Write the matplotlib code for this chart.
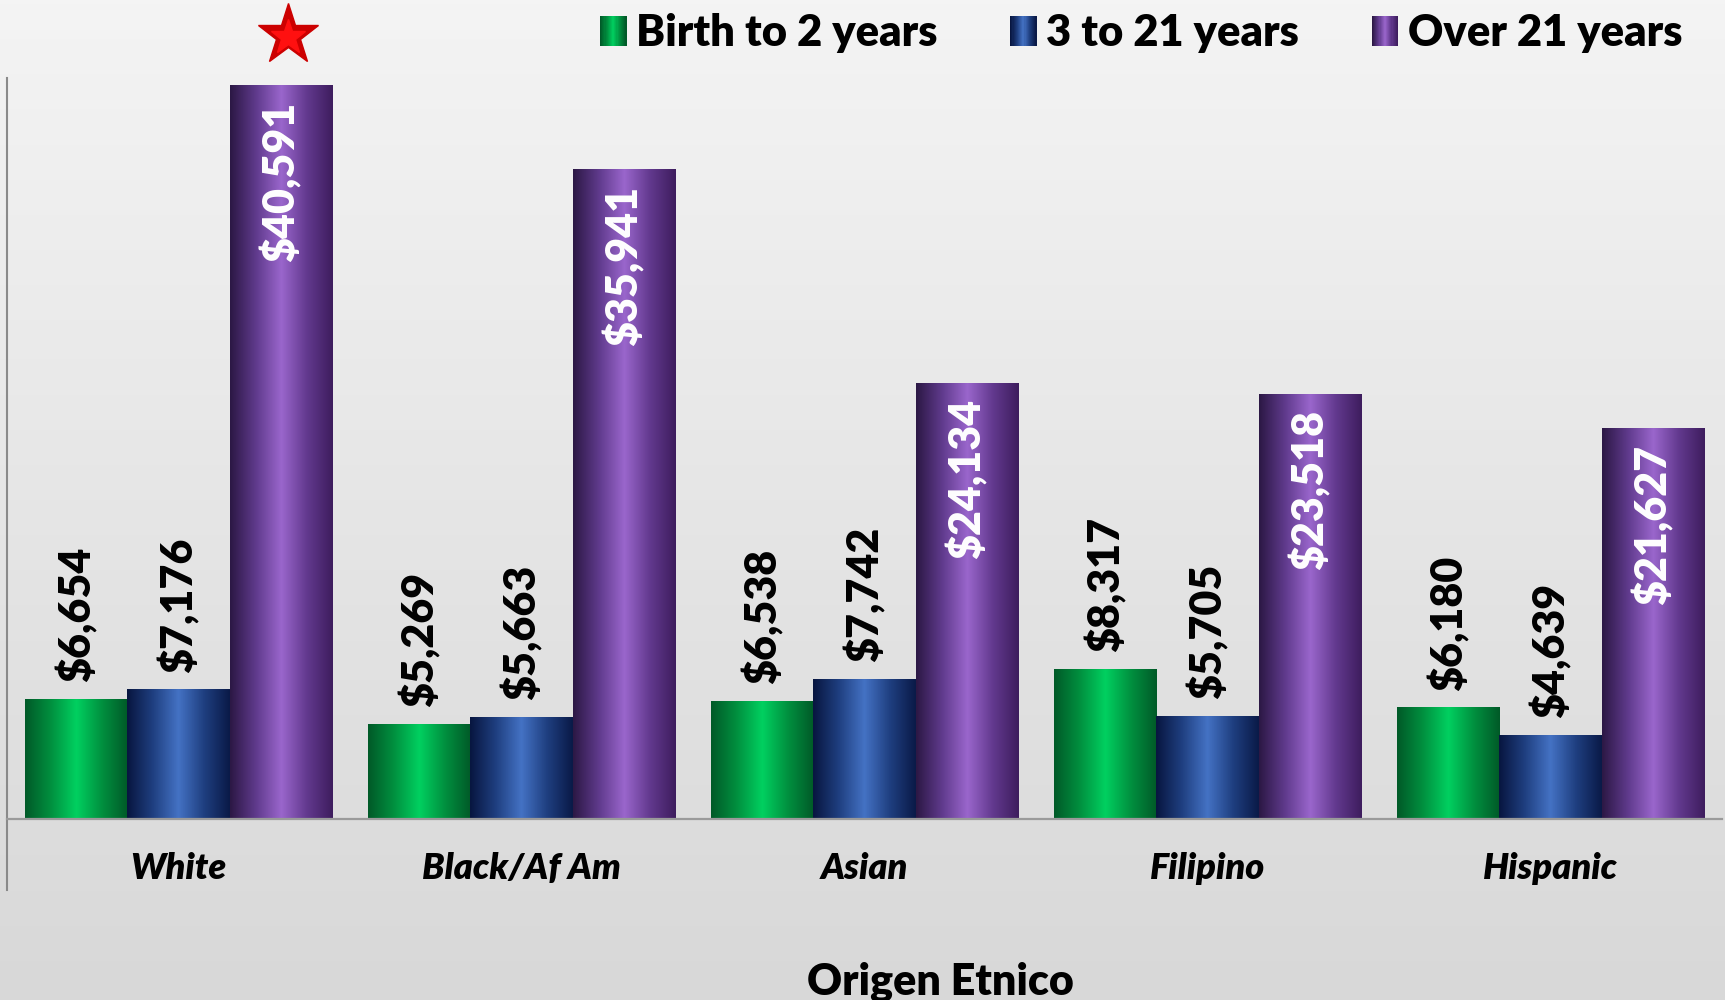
import numpy as np
import matplotlib
matplotlib.use("Agg")
import matplotlib.pyplot as plt
from matplotlib.colors import LinearSegmentedColormap
from matplotlib.patches import Patch, Rectangle
from matplotlib.legend_handler import HandlerBase

# datos
grupos = ["White", "Black/Af Am", "Asian", "Filipino", "Hispanic"]
series = ["Birth to 2 years", "3 to 21 years", "Over 21 years"]
nacimiento_2 = [6654, 5269, 6538, 8317, 6180]
de_3_a_21 = [7176, 5663, 7742, 5705, 4639]
mayor_21 = [40591, 35941, 24134, 23518, 21627]
titulo_x = "Origen Etnico"

valores = [nacimiento_2, de_3_a_21, mayor_21]

# degradados tipo cilindro
mapas = [
    LinearSegmentedColormap.from_list("verde", ["#005a28", "#00903f", "#00d060", "#00903f", "#005a28"]),
    LinearSegmentedColormap.from_list("azul", ["#081640", "#1f3f80", "#4472c4", "#1f3f80", "#0a1a48"]),
    LinearSegmentedColormap.from_list("morado", ["#2c1845", "#5f3a8c", "#9a66cc", "#62398e", "#3e1d5e"]),
]
color_etiqueta = ["black", "black", "white"]

plt.rcParams["font.family"] = ["Lato", "DejaVu Sans"]

fig = plt.figure(figsize=(17.25, 10), dpi=100)

# fondo degradado gris
fondo = fig.add_axes([0, 0, 1, 1], zorder=-10)
grad = np.linspace(244, 216, 256).reshape(-1, 1) / 255.0
fondo.imshow(np.dstack([grad, grad, grad]), aspect="auto", extent=[0, 1, 0, 1],
             origin="upper")
fondo.set_axis_off()

ax = fig.add_axes([7 / 1725, 1 - 890 / 1000, (1722 - 7) / 1725, (890 - 78) / 1000])
ax.patch.set_alpha(0)

x = np.arange(len(grupos))
ancho = 0.298
gris = "#9a9a9a"

for k, (vals, cmap) in enumerate(zip(valores, mapas)):
    pos = x + (k - 1) * ancho
    barras = ax.bar(pos, vals, width=ancho, facecolor="none", edgecolor="none",
                    label=series[k], zorder=2)
    img = np.linspace(0, 1, 200).reshape(1, -1)
    for b in barras:
        x0, y0 = b.get_x(), b.get_y()
        im = ax.imshow(img, cmap=cmap, aspect="auto", zorder=2,
                       extent=[x0, x0 + b.get_width(), y0, y0 + b.get_height()])
        im.set_clip_path(b)
    for xi, v in zip(pos, vals):
        if k == 2:
            ax.annotate(f"${v:,}", (xi, v), xytext=(0, -12), textcoords="offset points",
                        rotation=90, ha="center", va="top", fontsize=31,
                        fontweight="heavy", color=color_etiqueta[k], zorder=4)
        else:
            ax.annotate(f"${v:,}", (xi, v), xytext=(0, 12), textcoords="offset points",
                        rotation=90, ha="center", va="bottom", fontsize=31,
                        fontweight="heavy", color=color_etiqueta[k], zorder=4)

# estrella sobre el mayor valor
i_max = int(np.argmax(mayor_21))
y_est = max(mayor_21) * 1.068
ax.plot(x[i_max] + ancho + 0.02, y_est, marker="*", markersize=46, color="#cc0000",
        clip_on=False, zorder=5)
ax.plot(x[i_max] + ancho + 0.02, y_est * 0.998, marker="*", markersize=26, color="#ff1010",
        clip_on=False, zorder=6)

ax.set_xlim(-0.5, len(grupos) - 0.5)
ax.set_ylim(-3926, 40977)

ax.spines["top"].set_visible(False)
ax.spines["right"].set_visible(False)
ax.spines["bottom"].set_position(("data", 0))
ax.spines["bottom"].set_color(gris)
ax.spines["bottom"].set_linewidth(1.6)
ax.spines["left"].set_color("#8a8a8a")
ax.spines["left"].set_linewidth(1.5)
ax.set_yticks([])
ax.set_xticks(x)
ax.set_xticklabels(grupos, fontsize=26, fontweight="heavy", fontstyle="italic")
ax.tick_params(axis="x", length=0, pad=24)

ax.set_xlabel(titulo_x, fontsize=31, fontweight="heavy")
ax.xaxis.set_label_coords((940 - 7) / (1722 - 7), -(994 - 890) / (890 - 78))
ax.xaxis.label.set_va("baseline")


class ManejadorDegradado(HandlerBase):
    def __init__(self, cmap):
        super().__init__()
        self.cmap = cmap

    def create_artists(self, legend, orig_handle, xdescent, ydescent, width, height,
                       fontsize, trans):
        n = 24
        arts = []
        for j in range(n):
            arts.append(Rectangle((-xdescent + width * j / n, -ydescent), width / n + 0.3,
                                  height, facecolor=self.cmap(j / (n - 1)),
                                  edgecolor="none", transform=trans))
        return arts


manijas = [Patch(label=s) for s in series]
fig.legend(handles=manijas, labels=series, loc="upper right",
           bbox_to_anchor=(1682 / 1725, 1 - 13 / 1000), ncol=3, frameon=False,
           prop={"size": 31.3, "weight": "heavy"}, handlelength=0.6, handleheight=0.68,
           handletextpad=0.22, columnspacing=1.68, borderaxespad=0, borderpad=0,
           handler_map={h: ManejadorDegradado(c) for h, c in zip(manijas, mapas)})

fig.savefig("out.png", dpi=100)
